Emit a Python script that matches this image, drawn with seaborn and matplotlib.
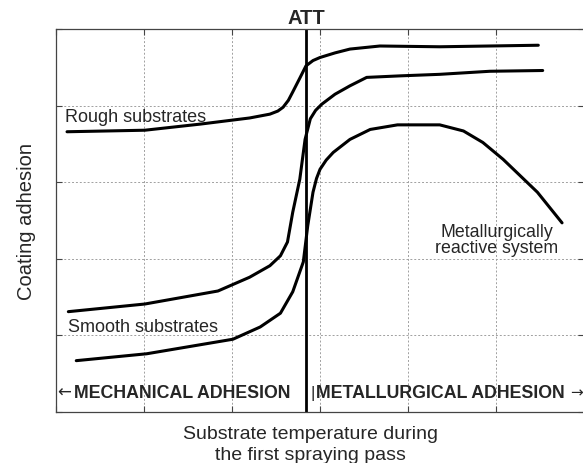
import matplotlib
matplotlib.use("Agg")
import pandas as pd
import seaborn as sns
import matplotlib.pyplot as plt

# Curves (x: 0-6, y: 0-5, arbitrary units)
rough_x = [0.125, 1.01, 1.64, 2.20, 2.43, 2.52, 2.58, 2.64, 2.69, 2.77, 2.84, 2.92, 3.00,
           3.17, 3.34, 3.68, 4.36, 5.48]
rough_y = [3.66, 3.68, 3.76, 3.84, 3.89, 3.93, 3.98, 4.07, 4.18, 4.36, 4.52, 4.59, 4.63,
           4.69, 4.74, 4.78, 4.77, 4.79]

smooth_x = [0.14, 1.01, 1.84, 2.20, 2.43, 2.55, 2.63, 2.69, 2.77, 2.83, 2.89, 2.95, 3.02,
            3.17, 3.34, 3.53, 3.91, 4.36, 4.93, 5.53]
smooth_y = [1.31, 1.41, 1.58, 1.76, 1.91, 2.04, 2.22, 2.61, 3.04, 3.56, 3.83, 3.94, 4.02,
            4.15, 4.26, 4.37, 4.39, 4.41, 4.45, 4.46]

metal_x = [0.23, 1.03, 2.01, 2.32, 2.55, 2.69, 2.81, 2.86, 2.92, 2.96, 3.00, 3.07, 3.15,
           3.34, 3.57, 3.88, 4.36, 4.63, 4.85, 5.08, 5.47, 5.75]
metal_y = [0.67, 0.76, 0.95, 1.11, 1.29, 1.57, 1.96, 2.43, 2.87, 3.05, 3.17, 3.29, 3.39,
           3.56, 3.69, 3.75, 3.75, 3.67, 3.52, 3.30, 2.87, 2.47]

att_x = 2.84
x_ticks = [0, 1, 2, 3, 4, 5, 6]
y_ticks = [0, 1, 2, 3, 4, 5]

sns.set_style("white")
plt.rcParams['font.family'] = ['Liberation Sans', 'DejaVu Sans']

fig = plt.figure(figsize=(5.83, 4.64), dpi=100)
ax = fig.add_axes([0.0961, 0.110, 0.9057, 0.825])

curves = [(rough_x, rough_y), (smooth_x, smooth_y), (metal_x, metal_y)]
for cx, cy in curves:
    df = pd.DataFrame({'x': cx, 'y': cy})
    sns.lineplot(data=df, x='x', y='y', ax=ax, color='black', linewidth=2.2,
                 estimator=None, sort=False)

ax.axvline(att_x, color='black', linewidth=2.0)

ax.set_xlim(0, 6)
ax.set_ylim(0, 5)
ax.set_xticks(x_ticks)
ax.set_yticks(y_ticks)
ax.set_xticklabels([])
ax.set_yticklabels([])
ax.tick_params(direction='in', length=4, width=0.8, color='#444444',
               top=True, right=True, bottom=True, left=True)
ax.grid(True, linestyle=(0, (2, 2)), color='#a0a0a0', linewidth=0.7)
for s in ax.spines.values():
    s.set_color('#444444')
    s.set_linewidth(0.9)

ax.set_xlabel("Substrate temperature during\nthe first spraying pass", fontsize=14,
              linespacing=1.3)
ax.xaxis.set_label_coords(0.481, -0.035, transform=ax.transAxes)
ax.xaxis.label.set_va('top')
ax.set_ylabel("Coating adhesion", fontsize=14.5, labelpad=11)

ax.text(att_x, 5.03, "ATT", ha='center', va='bottom', fontsize=14.5, fontweight='bold')

ax.text(0.1, 3.86, "Rough substrates", fontsize=13, va='center', ha='left')
ax.text(0.14, 1.11, "Smooth substrates", fontsize=13, va='center', ha='left')
ax.text(5.01, 2.25, "Metallurgically\nreactive system", fontsize=12.8, va='center',
        ha='center', linespacing=0.95)

ax.text(0.01, 0.26, "\u2190", fontsize=12, va='center', ha='left', family='DejaVu Sans')
ax.text(0.2, 0.26, "MECHANICAL ADHESION", fontsize=12.8, fontweight='bold',
        va='center', ha='left')
ax.text(2.89, 0.26, "|", fontsize=12, va='center', ha='left')
ax.text(2.95, 0.26, "METALLURGICAL ADHESION", fontsize=12.8, fontweight='bold',
        va='center', ha='left')
ax.text(5.99, 0.26, "\u2192", fontsize=11, va='center', ha='right', family='DejaVu Sans')

fig.savefig("out.png", dpi=100)
